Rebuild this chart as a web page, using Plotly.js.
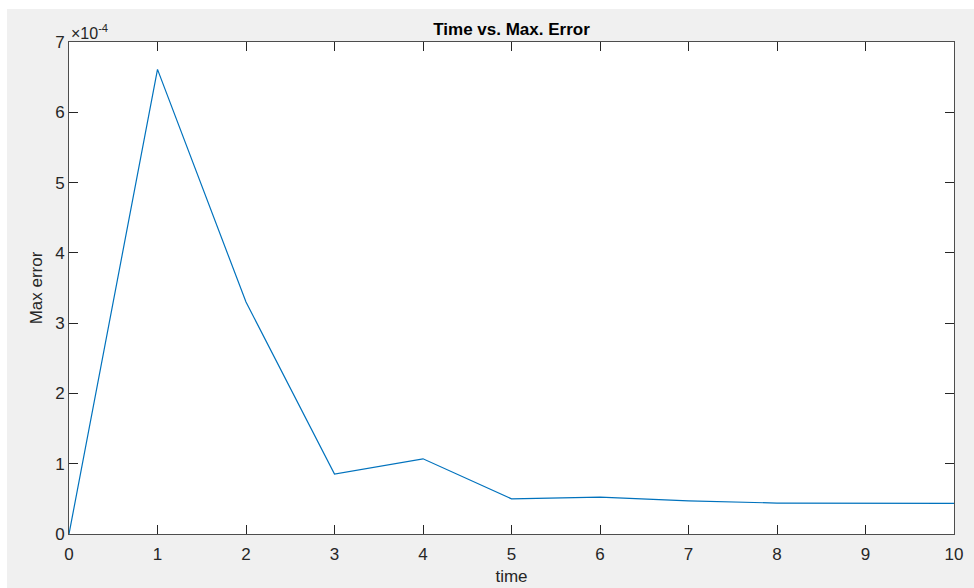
<!DOCTYPE html>
<html>
<head>
<meta charset="utf-8">
<script src="https://cdn.plot.ly/plotly-3.0.1.min.js"></script>
<style>
  html, body { margin: 0; padding: 0; background: #ffffff; }
  #chart { position: absolute; left: 7px; top: 9px; width: 967px; height: 579px; }
</style>
</head>
<body>
<div id="chart"></div>
<script>
// Maximum error recorded at each time step
const timeSteps = [0, 1, 2, 3, 4, 5, 6, 7, 8, 9, 10];
const maxError = [0, 6.61e-4, 3.30e-4, 0.853e-4, 1.07e-4, 0.50e-4, 0.526e-4, 0.47e-4, 0.44e-4, 0.435e-4, 0.435e-4];

// Y ticks shown in units of 1e-4
const yTickVals = [0, 1e-4, 2e-4, 3e-4, 4e-4, 5e-4, 6e-4, 7e-4];
const yTickText = ['0', '1', '2', '3', '4', '5', '6', '7'];
const xTickVals = [0, 1, 2, 3, 4, 5, 6, 7, 8, 9, 10];

const axisColor = '#4d4d4d';
const textColor = '#262626';
const fontFamily = 'Liberation Sans, Arial, Helvetica, sans-serif';
const baseFont = { family: fontFamily, size: 17, color: textColor };

const trace = {
  x: timeSteps,
  y: maxError,
  type: 'scatter',
  mode: 'lines',
  line: { color: '#0072BD', width: 1.2 },
  hoverinfo: 'x+y'
};

const layout = {
  width: 967,
  height: 579,
  margin: { l: 62, r: 20, t: 33, b: 54 },
  paper_bgcolor: '#f0f0f0',
  plot_bgcolor: '#ffffff',
  font: baseFont,
  showlegend: false,
  title: {
    text: '<b>Time vs. Max. Error</b>',
    font: { family: fontFamily, size: 17, color: '#000000' },
    x: 0.5, xref: 'paper',
    y: 1, yref: 'paper', yanchor: 'bottom',
    pad: { b: 7 }
  },
  xaxis: {
    range: [0, 10],
    tickvals: xTickVals,
    ticks: 'inside',
    ticklen: 9,
    tickcolor: textColor,
    tickwidth: 1,
    ticklabelstandoff: 5,
    showline: true,
    linecolor: axisColor,
    linewidth: 1,
    mirror: 'ticks',
    showgrid: false,
    zeroline: false,
    tickfont: baseFont,
    title: { text: 'time', font: baseFont, standoff: 6 }
  },
  yaxis: {
    range: [0, 7e-4],
    tickvals: yTickVals,
    ticktext: yTickText,
    ticks: 'inside',
    ticklen: 9,
    tickcolor: textColor,
    tickwidth: 1,
    showline: true,
    linecolor: axisColor,
    linewidth: 1,
    mirror: 'ticks',
    showgrid: false,
    zeroline: false,
    tickfont: baseFont,
    title: { text: 'Max error', font: baseFont, standoff: 8 }
  },
  annotations: [{
    text: '×10<sup>-4</sup>',
    xref: 'paper', yref: 'paper',
    x: 0, y: 1,
    xanchor: 'left', yanchor: 'bottom',
    showarrow: false,
    font: { family: fontFamily, size: 16, color: textColor },
    yshift: -2
  }]
};

Plotly.newPlot('chart', [trace], layout, { displayModeBar: false, staticPlot: true });
</script>
</body>
</html>
